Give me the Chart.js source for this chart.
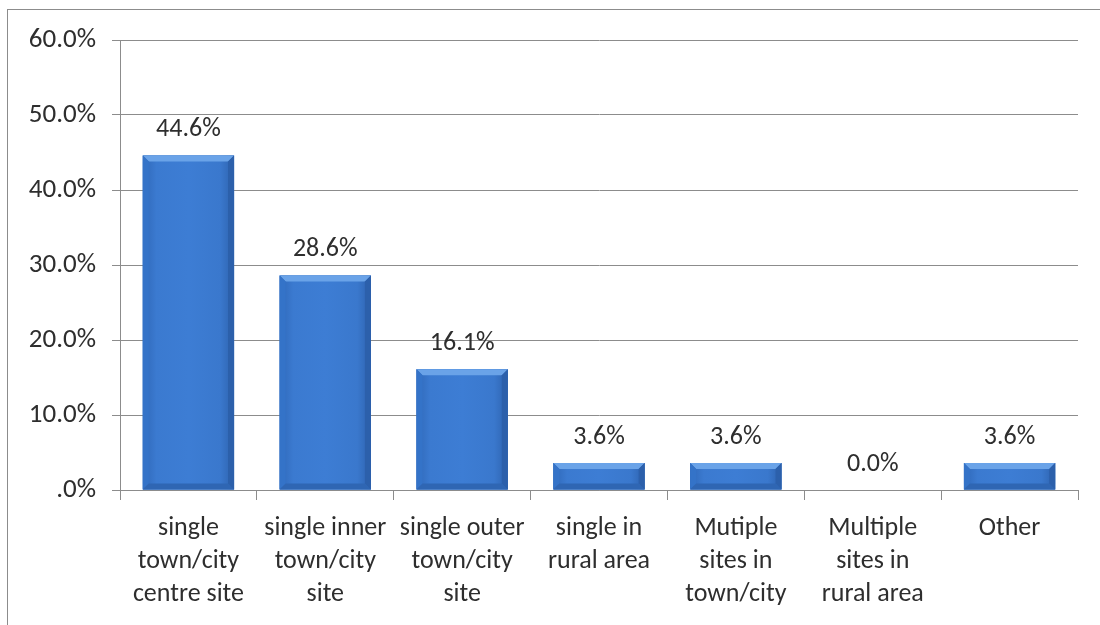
<!DOCTYPE html>
<html>
<head>
<meta charset="utf-8">
<script src="https://cdn.jsdelivr.net/npm/chart.js@4"></script>
<style>
  html, body { margin: 0; padding: 0; background: #fff; }
  #wrap { position: relative; width: 1100px; height: 625px; overflow: hidden; }
  #frame { position: absolute; left: 7px; top: 9px; width: 1200px; height: 700px; border: 1px solid #8c8c8c; box-sizing: border-box; }
  #chart { position: absolute; left: 0; top: 0; }
</style>
</head>
<body>
<div id="wrap">
  <div id="frame"></div>
  <canvas id="chart" width="1100" height="625"></canvas>
</div>
<script>
const categories = [
  ['single', 'town/city', 'centre site'],
  ['single inner', 'town/city', 'site'],
  ['single outer', 'town/city', 'site'],
  ['single in', 'rural area'],
  ['Mutiple', 'sites in', 'town/city'],
  ['Multiple', 'sites in', 'rural area'],
  ['Other']
];
const values = [44.6, 28.6, 16.1, 3.6, 3.6, 0.0, 3.6];
const yTicks = [0, 10, 20, 30, 40, 50, 60];

const fontFamily = "Carlito, Lato, 'Open Sans', sans-serif";
const textColor = '#2e2e2e';

const fmt = v => v === 0 ? '.0%' : v.toFixed(1) + '%';

// bevel look on each bar, like the office chart style
const bevel = {
  id: 'bevel',
  afterDatasetsDraw(chart) {
    const ctx = chart.ctx;
    chart.getDatasetMeta(0).data.forEach(bar => {
      const left = bar.x - bar.width / 2;
      const right = bar.x + bar.width / 2;
      const top = bar.y;
      const bottom = bar.base;
      const h = bottom - top;
      if (h < 1) return;
      const b = Math.min(6, h / 3);
      ctx.save();
      // body gradient
      const g = ctx.createLinearGradient(left, 0, right, 0);
      g.addColorStop(0, '#2f68b8');
      g.addColorStop(0.15, '#3b7ad0');
      g.addColorStop(0.5, '#3d7dd4');
      g.addColorStop(0.85, '#3a78cd');
      g.addColorStop(1, '#2d62ae');
      ctx.fillStyle = g;
      ctx.fillRect(left, top, right - left, h);
      // top bevel
      ctx.fillStyle = '#6aa3e8';
      ctx.beginPath();
      ctx.moveTo(left, top);
      ctx.lineTo(right, top);
      ctx.lineTo(right - b, top + b);
      ctx.lineTo(left + b, top + b);
      ctx.closePath();
      ctx.fill();
      // left bevel
      ctx.fillStyle = '#3473c8';
      ctx.beginPath();
      ctx.moveTo(left, top);
      ctx.lineTo(left + b, top + b);
      ctx.lineTo(left + b, bottom - b);
      ctx.lineTo(left, bottom);
      ctx.closePath();
      ctx.fill();
      // right bevel
      ctx.fillStyle = '#2c60ab';
      ctx.beginPath();
      ctx.moveTo(right, top);
      ctx.lineTo(right - b, top + b);
      ctx.lineTo(right - b, bottom - b);
      ctx.lineTo(right, bottom);
      ctx.closePath();
      ctx.fill();
      // bottom bevel
      ctx.fillStyle = '#2f66b3';
      ctx.beginPath();
      ctx.moveTo(left, bottom);
      ctx.lineTo(left + b, bottom - b);
      ctx.lineTo(right - b, bottom - b);
      ctx.lineTo(right, bottom);
      ctx.closePath();
      ctx.fill();
      ctx.restore();
    });
  }
};

const barLabels = {
  id: 'barLabels',
  afterDatasetsDraw(chart) {
    const ctx = chart.ctx;
    ctx.save();
    ctx.font = '26px ' + fontFamily;
    ctx.fillStyle = textColor;
    ctx.textAlign = 'center';
    ctx.textBaseline = 'middle';
    chart.getDatasetMeta(0).data.forEach((bar, i) => {
      ctx.fillText(values[i].toFixed(1) + '%', bar.x, bar.y - 26);
    });
    ctx.restore();
  }
};

new Chart(document.getElementById('chart'), {
  type: 'bar',
  data: {
    labels: categories,
    datasets: [{
      data: values,
      backgroundColor: '#3b7ad0',
      borderWidth: 0,
      barPercentage: 0.667,
      categoryPercentage: 1.0
    }]
  },
  options: {
    responsive: false,
    animation: false,
    layout: { padding: { left: 0, right: 22, top: 40, bottom: 0 } },
    plugins: {
      legend: { display: false },
      tooltip: { enabled: false }
    },
    scales: {
      y: {
        min: 0,
        max: 60,
        afterBuildTicks: scale => { scale.ticks = yTicks.map(v => ({ value: v })); },
        afterFit: scale => { scale.width = 120; },
        ticks: {
          callback: v => fmt(v),
          font: { size: 27, family: fontFamily },
          color: textColor,
          padding: 16
        },
        grid: { color: '#8c8c8c', lineWidth: 1, tickLength: 8 },
        border: { color: '#8c8c8c' }
      },
      x: {
        afterFit: scale => { scale.height = 135; },
        ticks: {
          font: { size: 26, family: fontFamily, lineHeight: 1.27 },
          color: textColor,
          maxRotation: 0,
          autoSkip: false,
          padding: 12
        },
        grid: { drawOnChartArea: false, color: '#8c8c8c', tickLength: 10, offset: true },
        border: { color: '#8c8c8c' }
      }
    }
  },
  plugins: [bevel, barLabels]
});
</script>
</body>
</html>
